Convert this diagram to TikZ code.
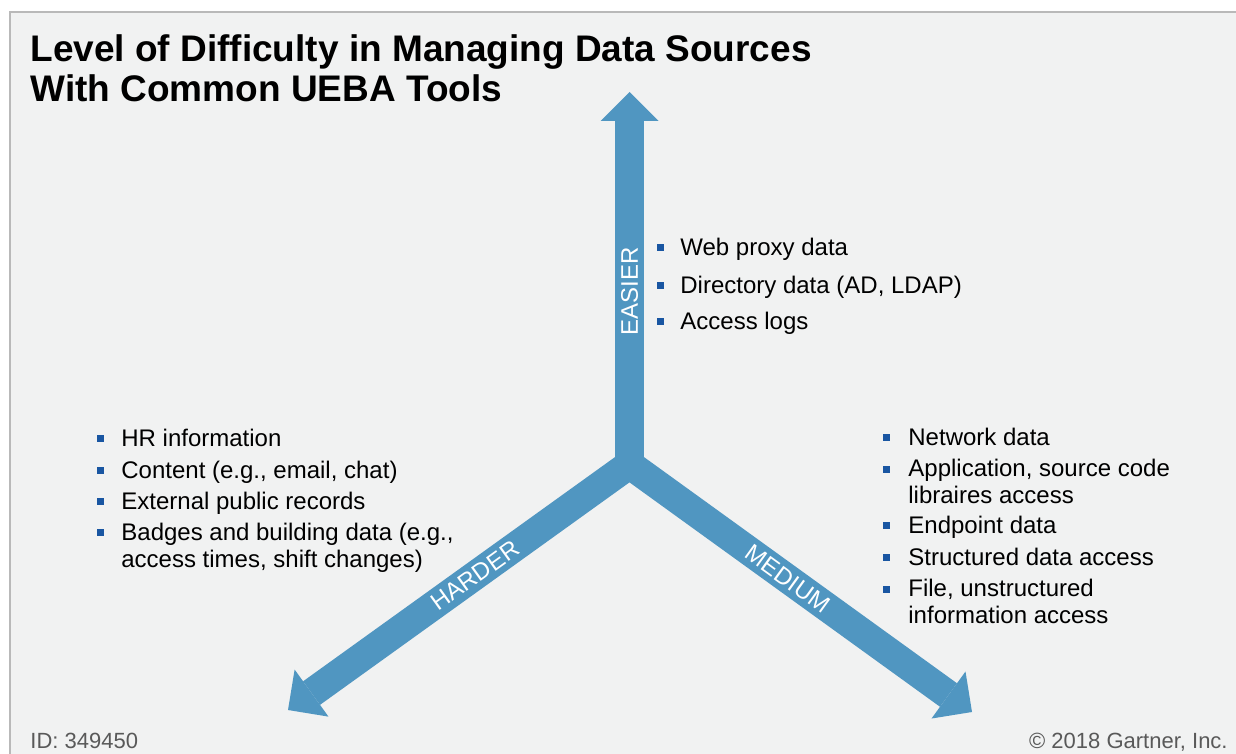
\documentclass[tikz,border=0pt]{standalone}
\usepackage{fontspec}
\setmainfont{Liberation Sans}
\usetikzlibrary{arrows.meta}

\definecolor{armblue}{RGB}{80,150,193}
\definecolor{dotblue}{RGB}{25,86,162}
\definecolor{panelgray}{RGB}{241,242,242}
\definecolor{framegray}{RGB}{185,185,185}

\begin{document}
\begin{tikzpicture}[x=0.5pt,y=-0.5pt,
  arm/.style={line width=14.5pt, armblue, -{Triangle[length=14.5pt,width=29pt,line width=0pt]}},
  armlabel/.style={sloped, text=white, inner sep=0pt, font=\fontsize{12}{14}\selectfont},
  entry/.style={anchor=base west, align=left, inner sep=0pt, font=\fontsize{12}{13.5}\selectfont},
  footer/.style={anchor=base, inner sep=0pt, text=black!65, font=\fontsize{11}{13}\selectfont}]
  \useasboundingbox (0,0) rectangle (1236,754);
  \fill[white] (0,0) rectangle (1236,754);
  \fill[panelgray] (10,12) rectangle (1236,754);
  \draw[framegray, line width=1pt] (10,754) -- (10,12) -- (1236,12);

  % title (base = last line)
  \node[anchor=base west, align=left, inner sep=0pt, font=\bfseries\fontsize{18.5}{20}\selectfont]
    (title) at (30,102) {Level of Difficulty in Managing Data Sources\\With Common UEBA Tools};

  % the three arms
  \coordinate (hub) at (629.5,464.5);
  \coordinate (easy) at (629.5,92);
  \coordinate (hard) at (288,710);
  \coordinate (mid) at (972,712);
  \draw[arm] (hub) -- (easy) node[armlabel, pos=0.464] (easylbl) {EASIER};
  \draw[arm] (hub) -- (hard) node[armlabel, pos=0.452] (hardlbl) {HARDER};
  \draw[arm] (hub) -- (mid) node[armlabel, pos=0.462] (midlbl) {MEDIUM};

  % easier sources
  \foreach \y/\txt [count=\i] in {256/{Web proxy data}, 293/{Directory data (AD, LDAP)}, 329/{Access logs}}{
    \fill[dotblue] (660,\y-8) +(-3.5,-3.5) rectangle +(3.5,3.5);
    \node[entry] (e\i) at (680,\y) {\txt};
  }
  % harder sources (two-line items sit on their last line)
  \foreach \y/\n/\txt [count=\i] in {446/0/{HR information}, 478/0/{Content (e.g., email, chat)},
      509/0/{External public records}, 540/27/{Badges and building data (e.g.,\\access times, shift changes)}}{
    \fill[dotblue] (100,\y-8) +(-3.5,-3.5) rectangle +(3.5,3.5);
    \node[entry] (h\i) at (121,\y+\n) {\txt};
  }
  % medium sources
  \foreach \y/\n/\txt [count=\i] in {445/0/{Network data}, 477/26/{Application, source code\\libraires access},
      533/0/{Endpoint data}, 565/0/{Structured data access}, 597/26/{File, unstructured\\information access}}{
    \fill[dotblue] (886,\y-8) +(-3.5,-3.5) rectangle +(3.5,3.5);
    \node[entry] (m\i) at (908,\y+\n) {\txt};
  }

  \node[footer, anchor=base west] (docid) at (30,748) {ID: 349450};
  \node[footer, anchor=base east] (copy) at (1228,748) {\textcopyright{} 2018 Gartner, Inc.};
\end{tikzpicture}
\end{document}
